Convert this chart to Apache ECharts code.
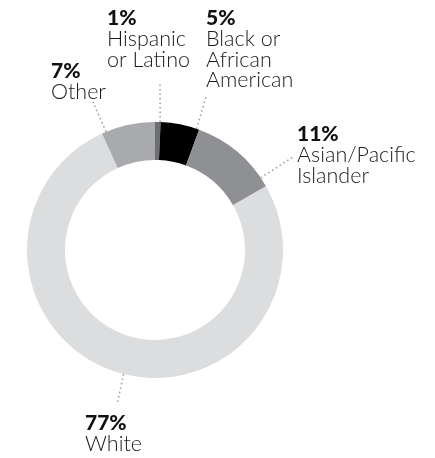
<!DOCTYPE html>
<html>
<head>
<meta charset="utf-8">
<script src="https://cdn.jsdelivr.net/npm/echarts@6/dist/echarts.min.js"></script>
<style>
html,body{margin:0;padding:0;background:#fff;}
#chart{width:435px;height:458px;}
</style>
</head>
<body>
<div id="chart"></div>
<script>
// Data
const categories = ['Hispanic\nor Latino', 'Black or\nAfrican\nAmerican', 'Asian/Pacific\nIslander', 'White', 'Other'];
const shares = [0.7, 4.9, 11.1, 76.5, 6.8];
const sliceColors = ['#6d6e71', '#000000', '#8f9093', '#dcdddf', '#a9aaad'];

// Layout (label placement and leader-line anchors)
const CENTER = [155, 250];
const R_IN = 90, R_OUT = 128;
const labelPos = [
  {x: 107, y: 8,   anchorDeg: 2.3,   end: [160, 82]},
  {x: 206, y: 8,   anchorDeg: 18.9,  end: [206, 97]},
  {x: 297, y: 124, anchorDeg: 55.7,  end: [293, 157]},
  {x: 85,  y: 413, anchorDeg: 194.2, end: [117, 405]},
  {x: 51,  y: 61,  anchorDeg: 337.5, end: [93, 102]}
];
function anchorPoint(deg) {
  const a = deg * Math.PI / 180;
  return [CENTER[0] + R_OUT * Math.sin(a), CENTER[1] - R_OUT * Math.cos(a)];
}

const chart = echarts.init(document.getElementById('chart'));
chart.setOption({
  animation: false,
  backgroundColor: '#ffffff',
  series: [{
    type: 'pie',
    center: CENTER,
    radius: [R_IN, R_OUT],
    startAngle: 90,
    clockwise: true,
    avoidLabelOverlap: false,
    silent: true,
    data: categories.map((c, i) => ({name: c, value: shares[i], itemStyle: {color: sliceColors[i]}})),
    itemStyle: {borderWidth: 0},
    label: {
      show: true,
      position: 'outside',
      formatter: p => '{p|' + Math.round(p.value) + '%}\n' + p.name.split('\n').map(s => '{n|' + s + '}').join('\n'),
      rich: {
        p: {fontFamily: 'Lato', fontWeight: 900, fontSize: 21, lineHeight: 21, color: '#111'},
        n: {fontFamily: 'Lato', fontWeight: 300, fontSize: 21.5, lineHeight: 20.5, color: '#1a1a1a'}
      }
    },
    labelLine: {
      show: true,
      length: 10,
      length2: 0,
      lineStyle: {color: '#9a9a9a', width: 1.5, type: [1.5, 3]}
    },
    labelLayout: function (params) {
      const lp = labelPos[params.dataIndex];
      return {
        x: lp.x,
        y: lp.y,
        align: 'left',
        verticalAlign: 'top',
        labelLinePoints: [anchorPoint(lp.anchorDeg), lp.end, lp.end]
      };
    }
  }]
});
</script>
</body>
</html>
